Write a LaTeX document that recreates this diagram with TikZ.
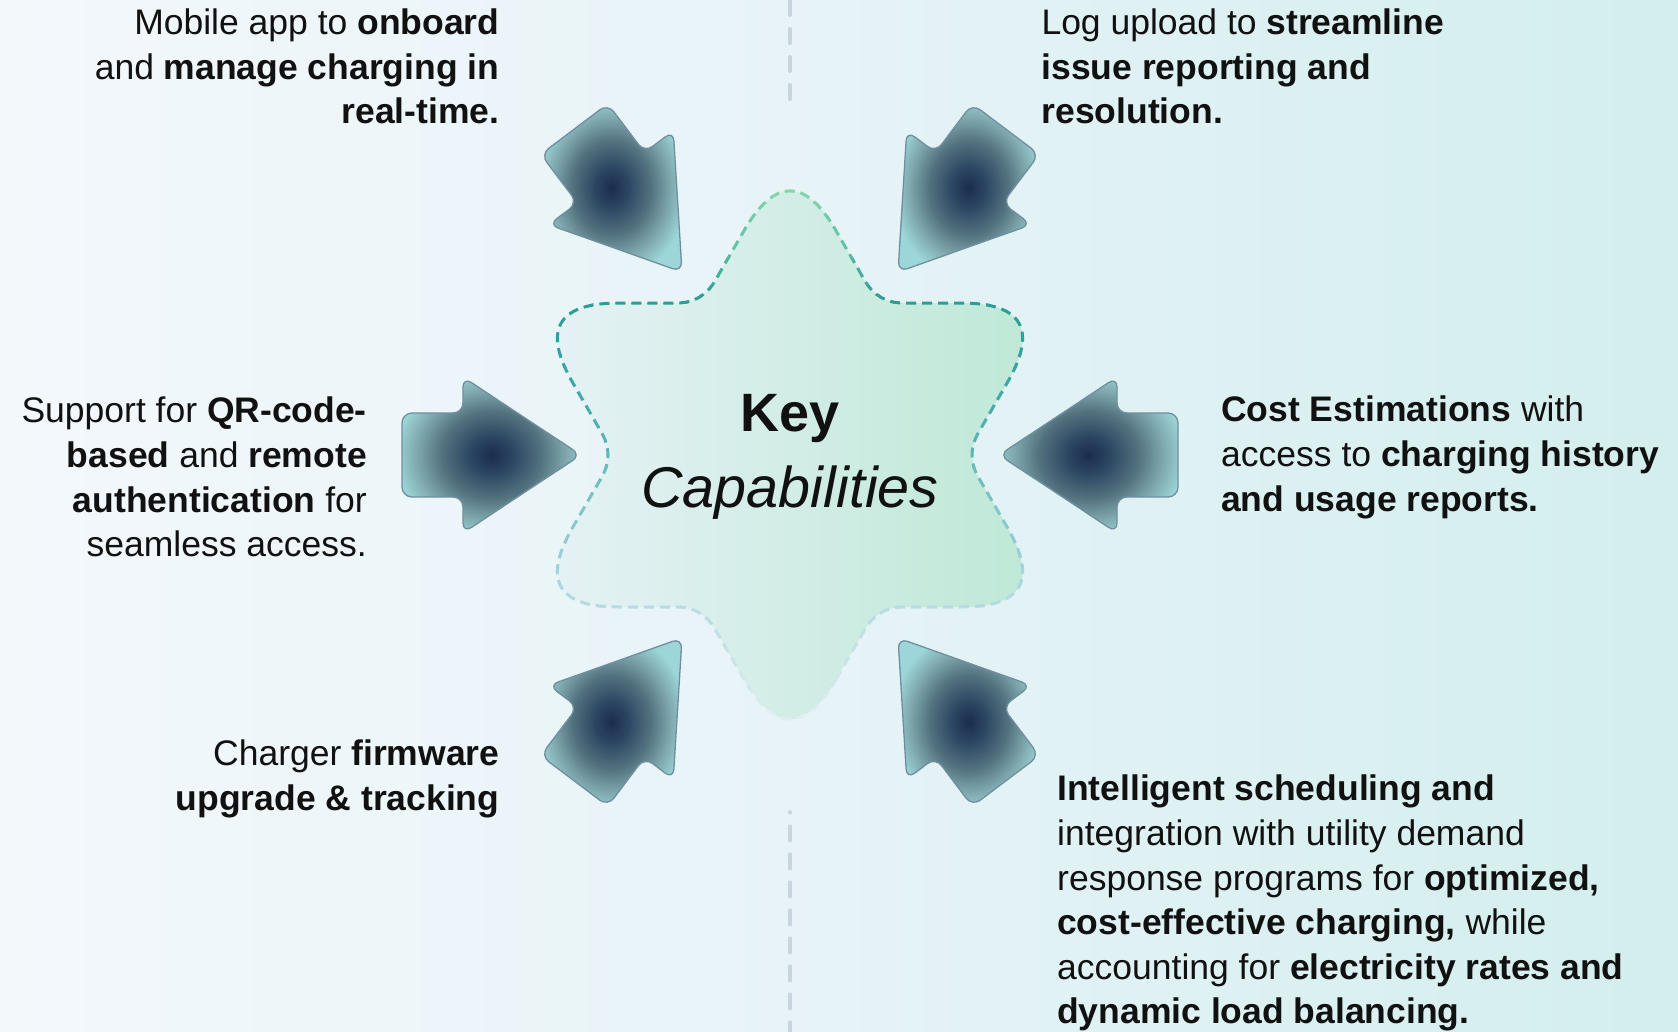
\documentclass[tikz,border=0pt]{standalone}
\usepackage{fontspec}
\setmainfont{Liberation Sans}
\usetikzlibrary{calc}
\definecolor{bgL}{HTML}{F3F8FB}
\definecolor{bgM}{HTML}{E6F3F7}
\definecolor{bgR}{HTML}{D3EEED}
\definecolor{starL}{HTML}{E6F2F6}
\definecolor{starR}{HTML}{BEE8D6}
\definecolor{s1}{HTML}{8FDCAE}
\definecolor{s2}{HTML}{5CBFA3}
\definecolor{s3}{HTML}{2B9B96}
\definecolor{s4}{HTML}{3AA5A5}
\definecolor{s5}{HTML}{5DB8B9}
\definecolor{s6}{HTML}{8CCBD0}
\definecolor{s7}{HTML}{B6DBE2}
\definecolor{s8}{HTML}{E3F0F4}
\definecolor{arA}{HTML}{1B2C4E}
\definecolor{arB}{HTML}{2C4662}
\definecolor{arC}{HTML}{53727F}
\definecolor{arD}{HTML}{7FA9AE}
\definecolor{arE}{HTML}{9CD6D8}
\definecolor{arrowedge}{HTML}{6F8FA0}
\definecolor{dashgray}{HTML}{C8D5DC}
\definecolor{ink}{HTML}{111111}
\pgfdeclareradialshading{arrowshade}{\pgfpoint{0bp}{0bp}}{%
  color(0bp)=(arA); color(6bp)=(arB); color(14bp)=(arC); color(21bp)=(arD); color(27bp)=(arE); color(50bp)=(arE)}
\begin{document}
\begin{tikzpicture}[x=1pt,y=-1pt,
  txt/.style={font=\fontsize{35.5}{44.6}\selectfont, inner sep=0pt, text=ink},
  arrowshape/.style={shade, shading=arrowshade, draw=arrowedge, line width=1.3pt, rounded corners=10pt},
  vdash/.style={draw=dashgray, line width=4pt, line cap=round, dash pattern=on 14pt off 14pt},
  stardash/.style={line width=3pt, dash pattern=on 10pt off 6pt}]
\useasboundingbox (0,0) rectangle (1678,1031);
\shade[left color=bgL, right color=bgR, middle color=bgM] (0,0) rectangle (1678,1031);

% divider
\coordinate (vt1) at (790,1);
\coordinate (vt2) at (790,100);
\coordinate (vb1) at (790,812);
\coordinate (vb2) at (790,1040);
\draw[vdash] (vt1) -- (vt2);
\draw[vdash, dash phase=13.5pt] (vb1) -- (vb2);

% star geometry
\coordinate (C) at (790,455);
\foreach \k in {0,...,5} {
  \coordinate (o\k) at ($(C)+({90-60*\k}:304)$);
  \coordinate (i\k) at ($(C)+({60-60*\k}:175.5)$);
}
\foreach \k [evaluate=\k as \p using {int(mod(\k+5,6))}, evaluate=\k as \n using {int(mod(\k+1,6))}] in {0,...,5} {
  \coordinate (oa\k) at ($(o\k)!92pt!(i\p)$);
  \coordinate (ob\k) at ($(o\k)!92pt!(i\k)$);
  \coordinate (ia\k) at ($(i\k)!26pt!(o\k)$);
  \coordinate (ib\k) at ($(i\k)!26pt!(o\n)$);
  \coordinate (ocA\k) at ($(oa\k)!0.6667!(o\k)$);
  \coordinate (ocB\k) at ($(ob\k)!0.6667!(o\k)$);
  \coordinate (icA\k) at ($(ia\k)!0.6667!(i\k)$);
  \coordinate (icB\k) at ($(ib\k)!0.6667!(i\k)$);
}
\def\starpath{(ob0) -- (ia0) .. controls (icA0) and (icB0) .. (ib0)
  -- (oa1) .. controls (ocA1) and (ocB1) .. (ob1) -- (ia1) .. controls (icA1) and (icB1) .. (ib1)
  -- (oa2) .. controls (ocA2) and (ocB2) .. (ob2) -- (ia2) .. controls (icA2) and (icB2) .. (ib2)
  -- (oa3) .. controls (ocA3) and (ocB3) .. (ob3) -- (ia3) .. controls (icA3) and (icB3) .. (ib3)
  -- (oa4) .. controls (ocA4) and (ocB4) .. (ob4) -- (ia4) .. controls (icA4) and (icB4) .. (ib4)
  -- (oa5) .. controls (ocA5) and (ocB5) .. (ob5) -- (ia5) .. controls (icA5) and (icB5) .. (ib5)
  -- (oa0) .. controls (ocA0) and (ocB0) .. (ob0) -- cycle}
\shade[left color=starL, right color=starR] \starpath;
\foreach \ya/\yb/\ca/\cb in {180/250/s1/s2, 250/303/s2/s3, 303/380/s3/s4, 380/455/s4/s5, 455/530/s5/s6, 530/607/s6/s7, 607/730/s7/s8} {
  \foreach \j in {0,...,5} {
    \pgfmathsetmacro\yy{\ya+(\yb-\ya)*\j/6}
    \pgfmathsetmacro\yz{\ya+(\yb-\ya)*(\j+1)/6+0.6}
    \pgfmathtruncatemacro\pp{(\j+0.5)*100/6}
    \colorlet{bandc}{\cb!\pp!\ca}
    \begin{scope}
      \clip (480,\yy) rectangle (1100,\yz);
      \draw[stardash, bandc] \starpath;
    \end{scope}
  }
}

% arrows (tip position / rotation)
\coordinate (tL) at (581,455);
\coordinate (tR) at (999,455);
\coordinate (tUL) at (682,272);
\coordinate (tUR) at (898,272);
\coordinate (tLL) at (682,638);
\coordinate (tLR) at (898,638);
\foreach \t/\r in {tL/0, tR/180, tUL/-53, tUR/-127, tLL/53, tLR/127} {
  \begin{scope}[shift={(\t)}, rotate=\r]
    \path[arrowshape] (0,0) -- (-118,78) -- (-118,42) -- (-179,42) -- (-179,-42) -- (-118,-42) -- (-118,-78) -- cycle;
  \end{scope}
}

% center text
\node[font=\fontsize{54}{60}\selectfont\bfseries, anchor=base, inner sep=0pt, text=ink] (key) at (790,431) {Key};
\node[font=\fontsize{57.5}{64}\selectfont\itshape, anchor=base, inner sep=0pt, text=ink] (cap) at (790,507) {Capabilities};

% side texts
\node[txt, anchor=north east, align=right] (t1) at (499.5,8.6)
  {Mobile app to \textbf{onboard}\\and \textbf{manage charging in}\\\textbf{real-time.}};
\node[txt, anchor=north west, align=left] (t2) at (1041.3,8.6)
  {Log upload to \textbf{streamline}\\\textbf{issue reporting and}\\\textbf{resolution.}};
\node[txt, anchor=north east, align=right] (t3) at (367,397)
  {Support for \textbf{QR-code-}\\\textbf{based} and \textbf{remote}\\\textbf{authentication} for\\seamless access.};
\node[txt, anchor=north west, align=left] (t4) at (1221,396)
  {\textbf{Cost Estimations} with\\access to \textbf{charging history}\\\textbf{and usage reports.}};
\node[txt, anchor=north east, align=right] (t5) at (499.5,740)
  {Charger \textbf{firmware}\\\textbf{upgrade \& tracking}};
\node[txt, anchor=north west, align=left] (t6) at (1057,775)
  {\textbf{Intelligent scheduling and}\\integration with utility demand\\response programs for \textbf{optimized,}\\\textbf{cost-effective charging,} while\\accounting for \textbf{electricity rates and}\\\textbf{dynamic load balancing.}};
\end{tikzpicture}
\end{document}
